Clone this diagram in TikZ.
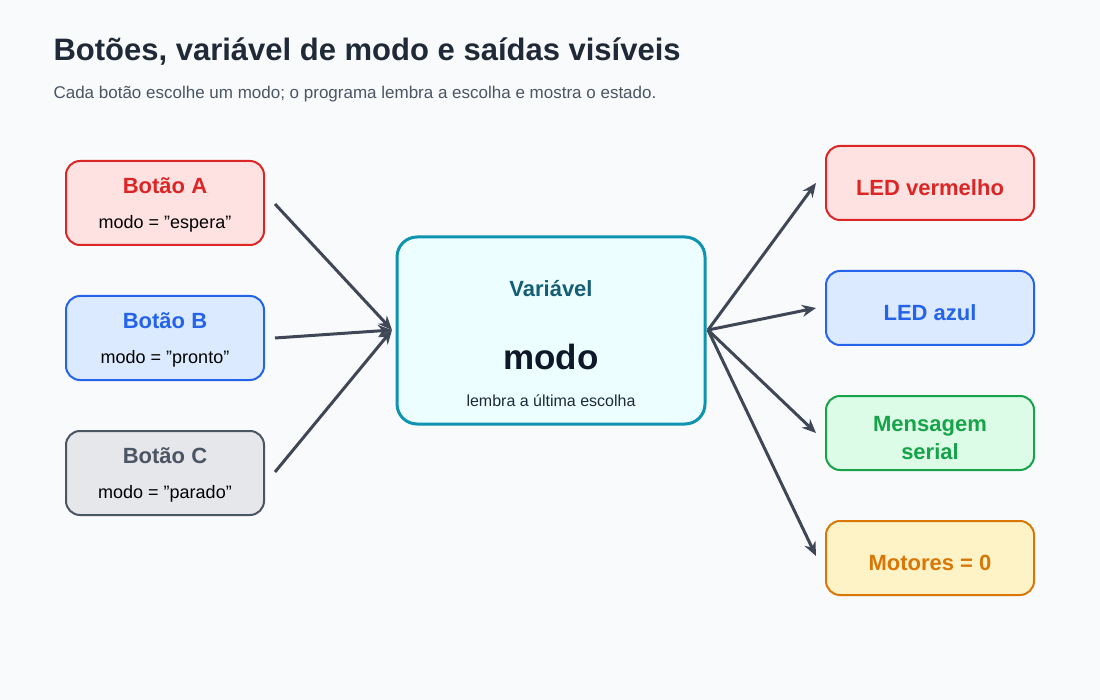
\documentclass[tikz,border=0pt]{standalone}
\usepackage{fontspec}
\setmainfont{Liberation Sans}
\usetikzlibrary{arrows.meta}
\definecolor{bg}{HTML}{F8FAFC}
\definecolor{ink}{HTML}{1F2937}
\definecolor{sub}{HTML}{4B5563}
\definecolor{arr}{HTML}{3F4756}
\definecolor{rB}{HTML}{DC2626}\definecolor{rF}{HTML}{FEE2E2}
\definecolor{bB}{HTML}{2563EB}\definecolor{bF}{HTML}{DBEAFE}
\definecolor{gB}{HTML}{4B5563}\definecolor{gF}{HTML}{E5E7EB}
\definecolor{nB}{HTML}{16A34A}\definecolor{nF}{HTML}{DCFCE7}
\definecolor{oB}{HTML}{D97706}\definecolor{oF}{HTML}{FEF3C7}
\definecolor{cB}{HTML}{0E93B0}\definecolor{cF}{HTML}{ECFEFF}
\definecolor{cT}{HTML}{155E75}\definecolor{cM}{HTML}{0F172A}
\begin{document}
\begin{tikzpicture}[x=1pt,y=-1pt,
 box/.style={rounded corners=14pt,line width=2pt},
 ttl/.style={font=\bfseries\fontsize{22}{24}\selectfont},
 lbl/.style={font=\fontsize{18}{20}\selectfont,text=black},
 con/.style={draw=arr,line width=3pt,-{Stealth[length=14pt,width=12pt]}}]
\fill[bg] (0,0) rectangle (1100,700);
\useasboundingbox (0,0) rectangle (1100,700);
\node[anchor=west,text=ink,font=\bfseries\fontsize{31}{34}\selectfont] (title) at (50,52) {Botões, variável de modo e saídas visíveis};
\node[anchor=west,text=sub,font=\fontsize{17}{19}\selectfont] (subt) at (50,94) {Cada botão escolhe um modo; o programa lembra a escolha e mostra o estado.};
% left boxes
\draw[box,draw=rB,fill=rF] (66,161) rectangle (264,245);
\node[ttl,text=rB] (ta) at (165,186) {Botão A};
\node[lbl] (la) at (165,224) {modo = "espera"};
\draw[box,draw=bB,fill=bF] (66,296) rectangle (264,380);
\node[ttl,text=bB] (tb) at (165,321) {Botão B};
\node[lbl] (lb) at (165,359) {modo = "pronto"};
\draw[box,draw=gB,fill=gF] (66,431) rectangle (264,515);
\node[ttl,text=gB] (tc) at (165,456) {Botão C};
\node[lbl] (lc) at (165,494) {modo = "parado"};
% center
\draw[box,draw=cB,fill=cF,line width=3pt,rounded corners=20pt] (397,237) rectangle (705,424);
\node[ttl,text=cT] (cv) at (551,289) {Variável};
\node[text=cM,font=\bfseries\fontsize{35}{38}\selectfont] (cm) at (551,357) {modo};
\node[font=\fontsize{16}{18}\selectfont,text=ink] (cl) at (551,401) {lembra a última escolha};
% right
\draw[box,draw=rB,fill=rF] (826,146) rectangle (1034,220);
\node[ttl,text=rB] (o1) at (930,188) {LED vermelho};
\draw[box,draw=bB,fill=bF] (826,271) rectangle (1034,345);
\node[ttl,text=bB] (o2) at (930,313) {LED azul};
\draw[box,draw=nB,fill=nF] (826,396) rectangle (1034,470);
\node[ttl,text=nB,align=center,font=\bfseries\fontsize{22}{28}\selectfont] (o3) at (930,438) {Mensagem\\serial};
\draw[box,draw=oB,fill=oF] (826,521) rectangle (1034,595);
\node[ttl,text=oB] (o4) at (930,563) {Motores = 0};
% connectors
\coordinate (a1) at (275,204); \coordinate (a2) at (275,338); \coordinate (a3) at (275,472);
\coordinate (cin) at (392,330); \coordinate (cout) at (708,330);
\coordinate (r1) at (816,183); \coordinate (r2) at (816,308); \coordinate (r3) at (816,433); \coordinate (r4) at (816,556);
\foreach \s in {a1,a2,a3} \draw[con] (\s) -- (cin);
\foreach \t in {r1,r2,r3,r4} \draw[con] (cout) -- (\t);
\end{tikzpicture}
\end{document}
